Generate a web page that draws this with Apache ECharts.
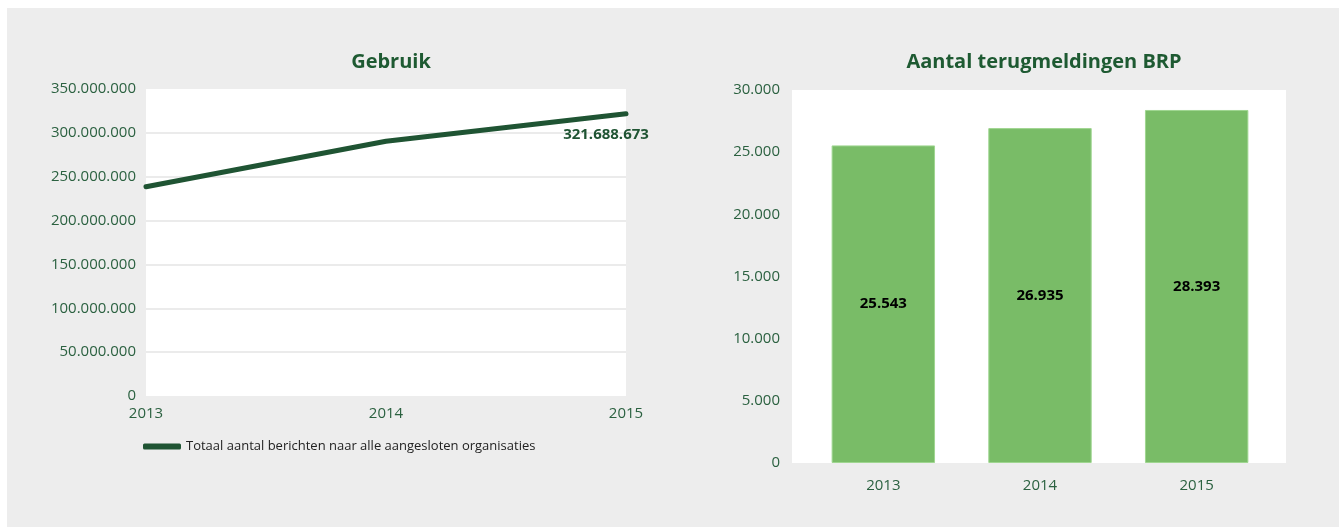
<!DOCTYPE html>
<html>
<head>
<meta charset="utf-8">
<script src="https://cdn.jsdelivr.net/npm/echarts@6/dist/echarts.min.js"></script>
<style>
  html,body{margin:0;padding:0;background:#fff;}
  #bg{position:absolute;left:7px;top:8px;width:1332px;height:519px;background:#ededed;}
  #c{position:absolute;left:0;top:0;width:1339px;height:527px;}
</style>
</head>
<body>
<div id="bg"></div>
<div id="c"></div>
<script>
const years = ['2013', '2014', '2015'];
const berichten = [238500000, 290500000, 321688673];
const terugmeldingen = [25543, 26935, 28393];
const titleLeft = 'Gebruik';
const titleRight = 'Aantal terugmeldingen BRP';
const legendName = 'Totaal aantal berichten naar alle aangesloten organisaties';

const FONT = '"Open Sans", "Noto Sans", sans-serif';
const GREEN_TXT = '#2b6140';
const TITLE_GREEN = '#1e5a32';
const LINE_GREEN = '#1f5433';
const BAR_GREEN = '#79bc67';

function fmt(v){ return String(Math.round(v)).replace(/\B(?=(\d{3})+(?!\d))/g, '.'); }

const chart = echarts.init(document.getElementById('c'), null, {renderer:'canvas'});
chart.setOption({
  backgroundColor: 'transparent',
  animation: false,
  textStyle: { fontFamily: FONT },
  graphic: [
    { type: 'rect', z: -10, silent: true, shape: { x: 792, y: 90, width: 494, height: 373 },
      style: { fill: '#fff' } }
  ],
  title: [
    { text: titleLeft, left: 386, top: 47, textAlign: 'center',
      textStyle: { fontFamily: FONT, fontSize: 20, fontWeight: 'bold', color: TITLE_GREEN } },
    { text: titleRight, left: 1039, top: 47, textAlign: 'center',
      textStyle: { fontFamily: FONT, fontSize: 20, fontWeight: 'bold', color: TITLE_GREEN } }
  ],
  legend: {
    data: [legendName],
    left: 138, top: 435,
    icon: 'roundRect', itemWidth: 38, itemHeight: 6, itemGap: 6,
    textStyle: { fontFamily: FONT, fontSize: 13, color: '#222' }
  },
  grid: [
    { left: 146, top: 89, width: 480, height: 307, show: true, backgroundColor: '#fff', borderWidth: 0 },
    { left: 805, top: 90, width: 470, height: 373, show: false }
  ],
  xAxis: [
    { type: 'category', gridIndex: 0, data: years, boundaryGap: false,
      axisLine: { show: false }, axisTick: { show: false },
      axisLabel: { color: GREEN_TXT, fontSize: 15, margin: 10, fontFamily: FONT } },
    { type: 'category', gridIndex: 1, data: years,
      axisLine: { show: false }, axisTick: { show: false },
      axisLabel: { color: GREEN_TXT, fontSize: 15, margin: 15, fontFamily: FONT } }
  ],
  yAxis: [
    { type: 'value', gridIndex: 0, min: 0, max: 350000000, interval: 50000000,
      axisLine: { show: false }, axisTick: { show: false },
      splitLine: { show: true, showMinLine: false, showMaxLine: false, lineStyle: { color: '#ebebeb', width: 2 } },
      axisLabel: { color: GREEN_TXT, fontSize: 15, margin: 10, fontFamily: FONT, formatter: fmt } },
    { type: 'value', gridIndex: 1, min: 0, max: 30000, interval: 5000,
      axisLine: { show: false }, axisTick: { show: false },
      splitLine: { show: false },
      axisLabel: { color: GREEN_TXT, fontSize: 15, margin: 25, fontFamily: FONT, formatter: fmt,
        padding: [3, 0, 0, 0] } }
  ],
  series: [
    { name: legendName, type: 'line', xAxisIndex: 0, yAxisIndex: 0, data: berichten,
      symbol: 'circle', symbolSize: 1, showSymbol: true,
      itemStyle: { color: LINE_GREEN },
      lineStyle: { color: LINE_GREEN, width: 5, cap: 'round' },
      label: { show: true, position: 'bottom', offset: [-20, 8],
        color: LINE_GREEN, fontWeight: 'bold', fontSize: 15, fontFamily: FONT,
        formatter: p => p.dataIndex === berichten.length - 1 ? fmt(p.value) : '' } },
    { name: titleRight, type: 'bar', xAxisIndex: 1, yAxisIndex: 1, data: terugmeldingen,
      barWidth: '66%',
      itemStyle: { color: BAR_GREEN, borderColor: '#9fd690', borderWidth: 1 },
      label: { show: true, position: 'inside', color: '#000', fontWeight: 'bold', fontSize: 15,
        fontFamily: FONT, formatter: p => fmt(p.value) } }
  ]
});
</script>
</body>
</html>
